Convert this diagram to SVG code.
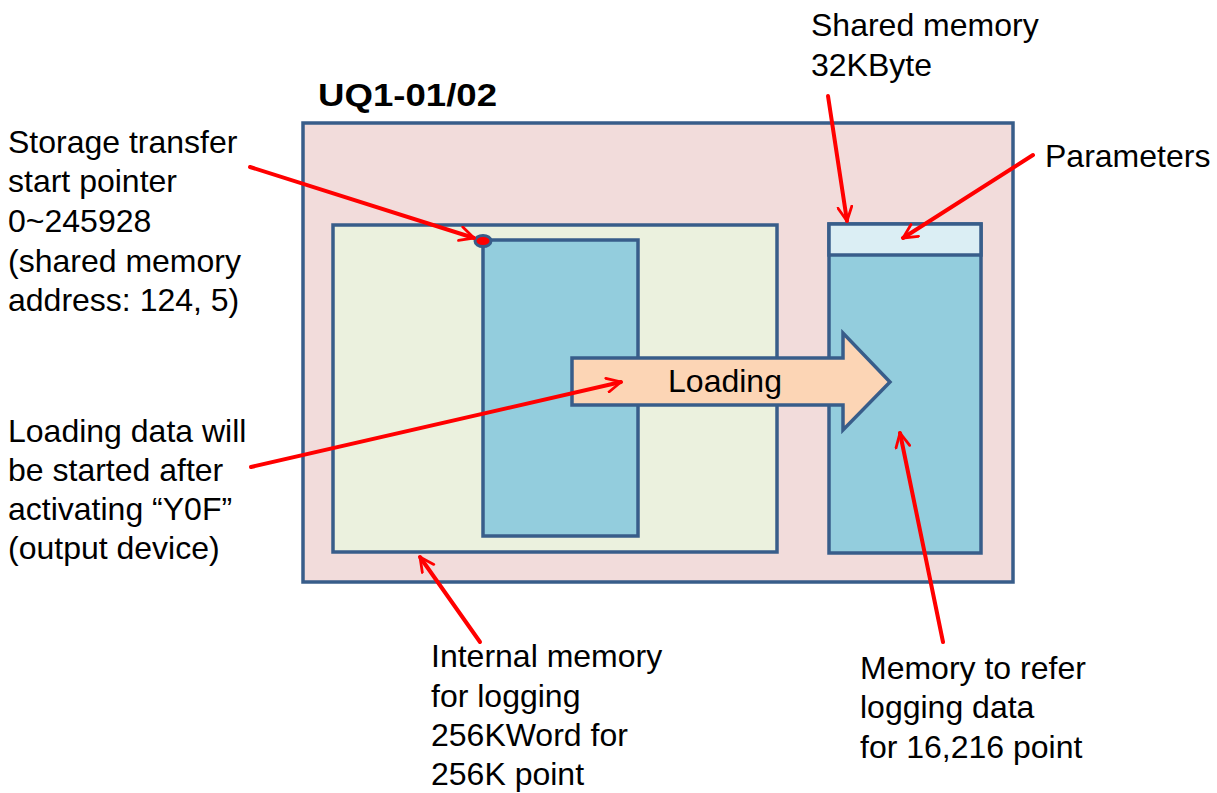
<svg xmlns="http://www.w3.org/2000/svg" width="1217" height="793" viewBox="0 0 1217 793">
<defs>
<style>
.box{stroke:#385d8a;stroke-width:3.5;stroke-linejoin:miter}
.t{font-family:"Liberation Sans",Arial,sans-serif;font-size:32px;fill:#000}
.lead{stroke:#ff0000;stroke-width:4;fill:none;stroke-linecap:round}
</style>
<marker id="ah" viewBox="0 0 12 12" refX="11" refY="6" markerWidth="4.2" markerHeight="4.2" orient="auto" markerUnits="strokeWidth">
<path d="M1,1 L11,6 L1,11" fill="none" stroke="#ff0000" stroke-width="2" stroke-linecap="round" stroke-linejoin="miter"/>
</marker>
</defs>
<rect width="1217" height="793" fill="#ffffff"/>

<g id="title">
<text class="t" x="318" y="106" font-weight="bold" font-size="31" textLength="179" lengthAdjust="spacingAndGlyphs">UQ1-01/02</text>
</g>

<g id="outer">
<rect class="box" x="303" y="123" width="710" height="459" fill="#f2dcdb"/>
</g>

<g id="internal-memory">
<rect class="box" x="333" y="225" width="444" height="327" fill="#ebf1de"/>
</g>

<g id="transfer-block">
<rect class="box" x="483" y="240" width="155" height="296" fill="#93cddd"/>
</g>

<g id="shared-memory">
<rect class="box" x="829" y="224" width="152" height="329" fill="#93cddd"/>
<rect class="box" x="829" y="224" width="152" height="31" fill="#dbeef4"/>
</g>

<g id="pointer-dot">
<ellipse cx="483" cy="241" rx="8" ry="5.5" fill="#ff0000" stroke="#385d8a" stroke-width="3"/>
</g>

<g id="loading-arrow">
<path class="box" d="M572,358 L843,358 L843,333 L890,382 L843,430 L843,405 L572,405 Z" fill="#fcd5b5"/>
<text class="t" x="725" y="392" font-size="31" text-anchor="middle">Loading</text>
</g>

<g id="connectors">
<line class="lead" x1="250" y1="167" x2="474" y2="238" marker-end="url(#ah)"/>
<line class="lead" x1="828" y1="96" x2="847" y2="221" marker-end="url(#ah)"/>
<line class="lead" x1="1033" y1="155" x2="903" y2="238" marker-end="url(#ah)"/>
<line class="lead" x1="251" y1="467" x2="621" y2="382" marker-end="url(#ah)"/>
<line class="lead" x1="480" y1="642" x2="420" y2="557" marker-end="url(#ah)"/>
<line class="lead" x1="943" y1="642" x2="900" y2="433" marker-end="url(#ah)"/>
</g>

<g id="label-shared">
<text class="t" x="811" y="36">Shared memory</text>
<text class="t" x="811" y="76">32KByte</text>
</g>

<g id="label-parameters">
<text class="t" x="1045" y="167">Parameters</text>
</g>

<g id="label-pointer">
<text class="t" x="8" y="153">Storage transfer</text>
<text class="t" x="8" y="192">start pointer</text>
<text class="t" x="8" y="232">0~245928</text>
<text class="t" x="8" y="272">(shared memory</text>
<text class="t" x="8" y="311">address: 124, 5)</text>
</g>

<g id="label-loading">
<text class="t" x="8" y="442">Loading data will</text>
<text class="t" x="8" y="481">be started after</text>
<text class="t" x="8" y="520">activating “Y0F”</text>
<text class="t" x="8" y="559">(output device)</text>
</g>

<g id="label-internal">
<text class="t" x="431" y="667">Internal memory</text>
<text class="t" x="431" y="707">for logging</text>
<text class="t" x="431" y="746">256KWord for</text>
<text class="t" x="431" y="785">256K point</text>
</g>

<g id="label-refer">
<text class="t" x="860" y="679">Memory to refer</text>
<text class="t" x="860" y="718">logging data</text>
<text class="t" x="860" y="758">for 16,216 point</text>
</g>
</svg>
